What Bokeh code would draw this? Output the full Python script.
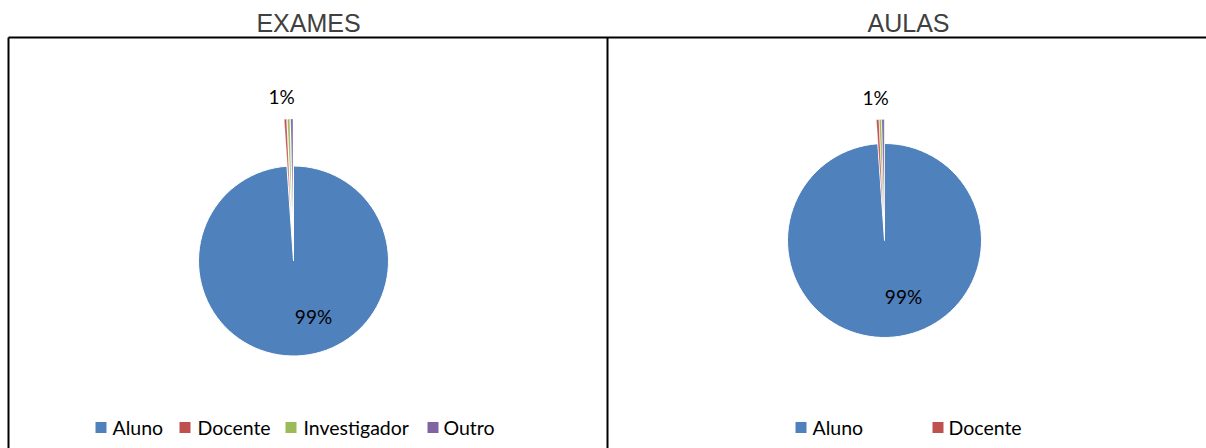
import math
from bokeh.plotting import figure
from bokeh.models import Range1d
from bokeh.core.properties import value
from bokeh.embed import file_html
from bokeh.resources import INLINE

# ---- data ----
categories = ["Aluno", "Docente", "Investigador", "Outro"]
colors = ["#4F81BD", "#C0504D", "#9BBB59", "#8064A2"]
exames_values = [98.9, 0.37, 0.36, 0.37]
aulas_values = [98.9, 0.38, 0.34, 0.38]
titles = ["EXAMES", "AULAS"]
aulas_legend = ["Aluno", "Docente"]

W, H = 1206, 448
p = figure(width=W, height=H, output_backend="svg", toolbar_location=None,
           x_range=Range1d(0, W), y_range=Range1d(0, H), min_border=0)
p.axis.visible = False
p.grid.visible = False
p.outline_line_color = None
p.background_fill_color = "white"

def X(sx):
    return sx

def Y(sy):
    return H - sy

# panel borders
p.line([X(8), X(1206)], [Y(37), Y(37)], line_color="black", line_width=2)
p.line([X(8), X(8)], [Y(37), Y(448)], line_color="black", line_width=2)
p.line([X(607), X(607)], [Y(37), Y(448)], line_color="black", line_width=2)

def draw_pie(vals, cx, cy, r, explode, title, tx, label_small, label_big, legend_items):
    total = sum(vals)
    cum = 0.0
    for i, v in enumerate(vals):
        a = cum / total
        b = (cum + v) / total
        cum += v
        start = math.pi / 2 - b * 2 * math.pi
        end = math.pi / 2 - a * 2 * math.pi
        mid = (start + end) / 2
        ox, oy = (0, 0) if i == 0 else (explode * math.cos(mid), explode * math.sin(mid))
        p.wedge(x=[X(cx) + ox], y=[Y(cy) + oy], radius=r, start_angle=start, end_angle=end,
                fill_color=colors[i], line_color="white", line_width=1 if i == 0 else 0.3)
    big = round(vals[0] / total * 100)
    small = round(sum(vals[1:]) / total * 100)
    p.text(x=[X(label_big[0])], y=[Y(label_big[1])], text=[f"{big}%"], text_font=value("Lato"),
           text_font_size="19px", text_align="center", text_baseline="middle", text_color="black")
    p.text(x=[X(label_small[0])], y=[Y(label_small[1])], text=[f"{small}%"], text_font=value("Lato"),
           text_font_size="19px", text_align="center", text_baseline="middle", text_color="black")
    p.text(x=[X(tx)], y=[Y(22)], text=[title], text_font=value("Liberation Sans"),
           text_font_size="25px", text_align="center", text_baseline="middle", text_color="#404040")
    for name, sqx, txx in legend_items:
        ci = categories.index(name)
        p.rect(x=[X(sqx)], y=[Y(427)], width=11, height=11, fill_color=colors[ci], line_color=None)
        p.text(x=[X(txx)], y=[Y(427)], text=[name], text_font=value("Lato"), text_font_size="19.5px",
               text_align="left", text_baseline="middle", text_color="black")

draw_pie(exames_values, 293, 260.5, 95, 47, titles[0], 308, (281, 96), (313, 316),
         [("Aluno", 100.5, 112), ("Docente", 184.5, 197), ("Investigador", 290.5, 303), ("Outro", 432.5, 443)])
draw_pie(aulas_values, 884, 240, 97, 24, titles[1], 908, (875, 97), (903, 296),
         [(n, sx, tx) for n, sx, tx in zip(aulas_legend, [800.5, 937.5], [812, 948])])

open("out.html", "w").write(file_html(p, INLINE))
